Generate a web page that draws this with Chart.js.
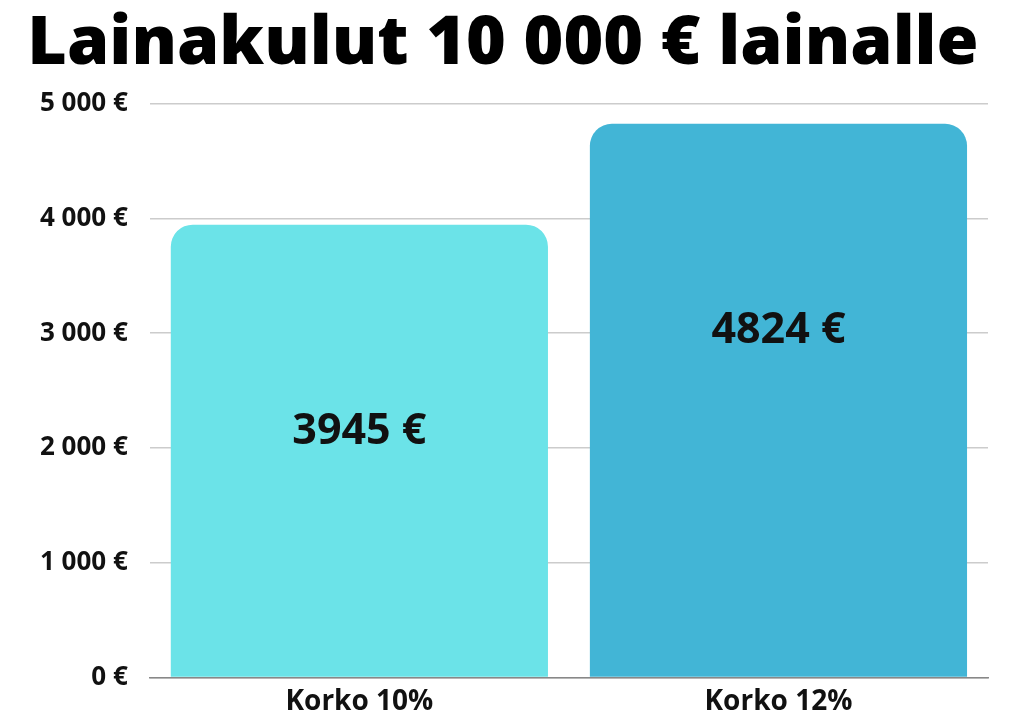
<!DOCTYPE html>
<html><head><meta charset="utf-8">
<script src="https://cdn.jsdelivr.net/npm/chart.js@4"></script>
<style>html,body{margin:0;padding:0;background:#fff}#w{width:1024px;height:727px}</style>
</head><body><div id="w"><canvas id="c"></canvas></div>
<script>
const categories = ["Korko 10%", "Korko 12%"];
const values = [3945, 4824];
const valueLabels = ["3945 €", "4824 €"];
const barColors = ["#6BE3E8", "#42B5D6"];
const titleText = "Lainakulut 10 000 € lainalle";

const labelPlugin = {
  id: 'vl',
  afterDatasetsDraw(chart) {
    const ctx = chart.ctx;
    const meta = chart.getDatasetMeta(0);
    ctx.save();
    ctx.font = "700 43px 'Open Sans'";
    ctx.fillStyle = "#111";
    ctx.textAlign = "center";
    ctx.textBaseline = "middle";
    meta.data.forEach((b, i) => ctx.fillText(valueLabels[i], b.x, b.y + 207));
    ctx.restore();
  }
};
new Chart(document.getElementById('c'), {
  type: 'bar',
  data: { labels: categories, datasets: [{ data: values, backgroundColor: barColors,
    borderRadius: { topLeft: 22, topRight: 22 }, borderSkipped: 'bottom',
    barPercentage: 0.9, categoryPercentage: 1 }] },
  options: {
    responsive: true, maintainAspectRatio: false, animation: false,
    layout: { padding: { left: 18, right: 36, bottom: 0, top: 4 } },
    plugins: { legend: { display: false }, tooltip: { enabled: false },
      title: { display: true, text: titleText, color: "#000",
        font: { family: "'Open Sans'", size: 68, weight: 800 }, padding: { top: 0, bottom: 18 } } },
    scales: {
      x: { grid: { display: false, drawTicks: false }, border: { color: "#888", width: 1.5 },
        ticks: { color: "#111", padding: 8, font: { family: "'Open Sans'", size: 28, weight: 700 } } },
      y: { min: 0, max: 5000, grid: { color: "#ccc", lineWidth: 1.5, drawTicks: false }, border: { display: false },
        ticks: { stepSize: 1000, padding: 22, color: "#111", font: { family: "'Open Sans'", size: 26, weight: 700 },
          callback: v => v.toLocaleString('fi-FI').replace(/\s/g, ' ') + ' €' } }
    }
  },
  plugins: [labelPlugin]
});
</script></body></html>
